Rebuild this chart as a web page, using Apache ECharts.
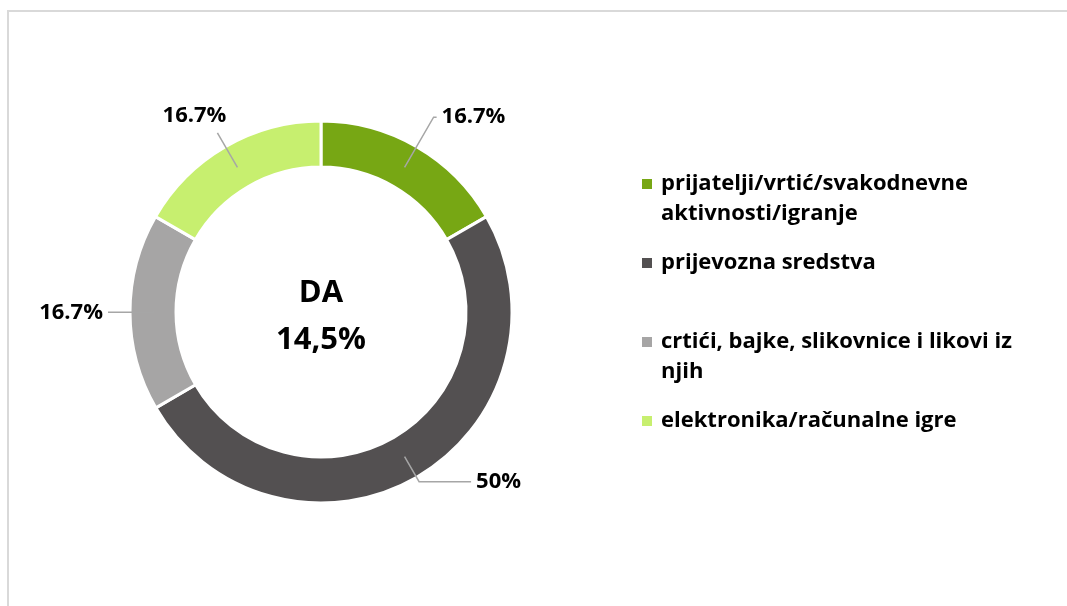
<!DOCTYPE html>
<html>
<head>
<meta charset="utf-8">
<script src="https://cdn.jsdelivr.net/npm/echarts@6/dist/echarts.min.js"></script>
<style>
  html, body { margin: 0; padding: 0; background: #fff; overflow: hidden; }
  #frame {
    position: absolute; left: 7px; top: 10px; width: 1200px; height: 800px;
    border: 2px solid #d9d9d9; box-sizing: border-box;
  }
  #main { position: absolute; left: 0; top: 0; width: 1067px; height: 606px; }
</style>
</head>
<body>
<div id="frame"></div>
<div id="main"></div>
<script>
// categories and shares (%)
const categories = [
  'prijatelji/vrtić/svakodnevne aktivnosti/igranje',
  'prijevozna sredstva',
  'crtići, bajke, slikovnice i likovi iz njih',
  'elektronika/računalne igre',
];
// legend text as wrapped in the original (leading empty line keeps
// the first text line level with the colour square)
const legendText = [
  '\nprijatelji/vrtić/svakodnevne\naktivnosti/igranje',
  'prijevozna sredstva',
  '\ncrtići, bajke, slikovnice i likovi iz\nnjih',
  'elektronika/računalne igre',
];
const shares = [16.7, 50, 16.7, 16.7];
const colors = ['#77a714', '#535051', '#a6a5a5', '#c7ef6f'];
const centerLabel = 'DA\n14,5%';

// leader line settings per slice
const leader = [
  { length: 58, length2: 3, dist: 5, raise: false },
  { length: 29, length2: 52, dist: 5, raise: false },
  { length: 30, length2: 16, dist: 5, raise: false },
  { length: 40, length2: 0, dist: -9, raise: true },
];

const FONT = 'Open Sans';
const chart = echarts.init(document.getElementById('main'));

const option = {
  animation: false,
  color: colors,
  title: {
    text: centerLabel,
    left: 321,
    top: 270,
    padding: 0,
    textAlign: 'center',
    textStyle: { fontFamily: FONT, fontSize: 31, fontWeight: 'bold', color: '#000', lineHeight: 47 },
  },
  legend: {
    orient: 'vertical',
    left: 642,
    top: 139,
    padding: 0,
    itemGap: 19,
    icon: 'rect',
    itemWidth: 10,
    itemHeight: 10,
    itemStyle: { borderWidth: 0 },
    selectedMode: false,
    data: categories,
    formatter: (name) => legendText[categories.indexOf(name)],
    textStyle: {
      fontFamily: FONT, fontSize: 22, fontWeight: 'bold', color: '#000',
      lineHeight: 30, padding: [0, 0, 0, 4],
    },
  },
  series: [
    {
      type: 'pie',
      z: 1,
      center: [321, 312],
      radius: [145, 191],
      startAngle: 90,
      silent: true,
      label: { show: false },
      labelLine: { show: false },
      itemStyle: { borderColor: '#fff', borderWidth: 3 },
      data: categories.map((name, i) => ({ name, value: shares[i] })),
    },
    {
      // transparent overlay carrying labels so leader lines start mid-ring
      type: 'pie',
      z: 5,
      center: [321, 312],
      radius: [0, 167],
      startAngle: 90,
      silent: true,
      avoidLabelOverlap: false,
      itemStyle: { color: 'rgba(0,0,0,0)' },
      label: {
        show: true,
        position: 'outside',
        formatter: '{c}%',
        fontFamily: FONT,
        fontSize: 22,
        fontWeight: 'bold',
        color: '#000',
      },
      labelLine: { show: true, lineStyle: { color: '#a6a6a6', width: 1.5 } },
      data: categories.map((name, i) => ({
        name,
        value: shares[i],
        label: leader[i].raise
          ? { distanceToLabelLine: leader[i].dist, formatter: '{c}%\n', lineHeight: 34 }
          : { distanceToLabelLine: leader[i].dist },
        labelLine: { length: leader[i].length, length2: leader[i].length2 },
      })),
    },
  ],
};

chart.setOption(option);
</script>
</body>
</html>
